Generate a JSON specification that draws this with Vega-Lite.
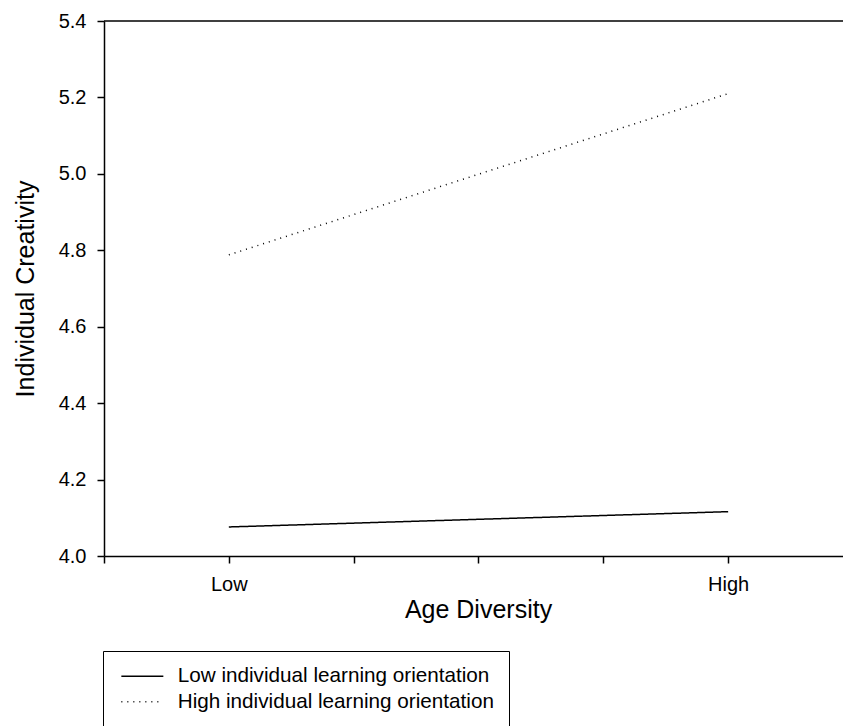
{
  "$schema": "https://vega.github.io/schema/vega-lite/v6.json",
  "width": 739,
  "height": 535,
  "autosize": {"type": "none"},
  "padding": {"left": 104, "top": 21, "right": 0, "bottom": 170},
  "background": "white",
  "config": {
    "view": {"stroke": null},
    "font": "Liberation Sans",
    "axis": {"grid": false, "domainColor": "black", "domainWidth": 1.5, "tickColor": "black", "tickWidth": 1.5, "tickSize": 7, "labelColor": "black", "titleColor": "black", "labelFont": "Liberation Sans", "titleFont": "Liberation Sans", "titleFontWeight": "normal", "labelFontSize": 20, "titleFontSize": 25}
  },
  "datasets": {
    "lines": [
      {"age": 1, "creativity": 4.076, "group": "Low individual learning orientation"},
      {"age": 5, "creativity": 4.116, "group": "Low individual learning orientation"},
      {"age": 1, "creativity": 4.788, "group": "High individual learning orientation"},
      {"age": 5, "creativity": 5.21, "group": "High individual learning orientation"}
    ]
  },
  "layer": [
    {
      "data": {"name": "lines"},
      "mark": {"type": "line", "color": "black", "strokeWidth": 1.5, "clip": true},
      "encoding": {
        "x": {
          "field": "age", "type": "quantitative",
          "scale": {"domain": [0, 5.92], "nice": false, "zero": false},
          "axis": {"values": [0, 1, 2, 3, 4, 5], "labelExpr": "datum.value == 1 ? 'Low' : datum.value == 5 ? 'High' : ''", "labelPadding": 11, "title": "Age Diversity", "titleX": 374, "titleY": 53, "titleBaseline": "middle", "labelFlush": false, "labelOverlap": false}
        },
        "y": {
          "field": "creativity", "type": "quantitative",
          "scale": {"domain": [4.0, 5.4], "nice": false, "zero": false},
          "axis": {"values": [4.0, 4.2, 4.4, 4.6, 4.8, 5.0, 5.2, 5.4], "format": ".1f", "labelPadding": 11, "title": "Individual Creativity", "titleX": -79, "titleBaseline": "middle", "labelFlush": false, "labelOverlap": false}
        },
        "detail": {"field": "group"},
        "strokeDash": {
          "field": "group", "type": "nominal",
          "scale": {"domain": ["Low individual learning orientation", "High individual learning orientation"], "range": [[1, 0], [1, 5]]},
          "legend": {
            "title": null, "orient": "none", "legendX": -1, "legendY": 630,
            "strokeColor": "black", "padding": 15, "symbolType": "M-1,0H5", "symbolSize": 196,
            "symbolStrokeColor": "black", "symbolStrokeWidth": 1.5, "labelFontSize": 20.7, "labelFont": "Liberation Sans", "labelColor": "black", "labelOffset": 39, "rowPadding": 3.5, "labelLimit": 500
          }
        }
      }
    },
    {
      "data": {"values": [{"top": 5.4}]},
      "mark": {"type": "rule", "color": "black", "strokeWidth": 1.5},
      "encoding": {"y": {"field": "top", "type": "quantitative"}}
    }
  ]
}
